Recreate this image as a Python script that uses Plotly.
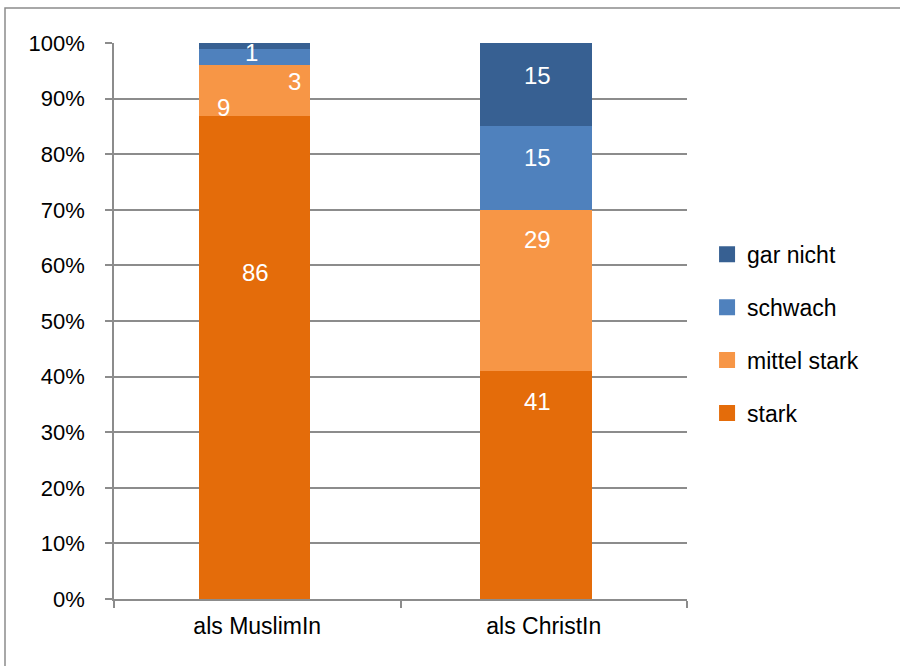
import plotly.graph_objects as go

categories = ["als MuslimIn", "als ChristIn"]
series_names = ["stark", "mittel stark", "schwach", "gar nicht"]
stark = [86, 41]
mittel_stark = [9, 29]
schwach = [3, 15]
gar_nicht = [1, 15]
values = [stark, mittel_stark, schwach, gar_nicht]
colors = ["#E46C0A", "#F79646", "#4F81BD", "#376092"]
y_tickvals = [0, 10, 20, 30, 40, 50, 60, 70, 80, 90, 100]
y_ticktext = [f"{v}%" for v in y_tickvals]

BAR_W = 0.39
bar_offsets = [-BAR_W / 2 - 0.01, -BAR_W / 2 - 0.026]  # slight per-category shift

# label offsets (pixels) relative to the top of each segment: (xshift, yshift) per [series][category]
label_offsets = [
    [(-2, -156), (-6, -30)],
    [(-34, -42), (-6, -30)],
    [(37, -33), (-6, -31)],
    [(-6, -9), (-6, -32)],
]

FONT = "Liberation Sans, Arial, sans-serif"
fig = go.Figure()
for si, (name, vals, col) in enumerate(zip(series_names, values, colors)):
    fig.add_trace(go.Bar(
        x=categories, y=vals, name=name, marker=dict(color=col, line=dict(width=0)),
        width=BAR_W, offset=bar_offsets, showlegend=False,
    ))
    # legend entry with a larger square swatch
    fig.add_trace(go.Scatter(
        x=[None], y=[None], mode="markers", name=name,
        marker=dict(symbol="square", size=16, color=col),
        legendgroup=name, legendrank=len(series_names) - si,
    ))

totals = [sum(v[i] for v in values) for i in range(len(categories))]
for ci, cat in enumerate(categories):
    for si, vals in enumerate(values):
        cum_top = sum(values[k][ci] for k in range(si + 1)) * 100 / totals[ci]
        cum_top = min(cum_top, 100)
        dx, dy = label_offsets[si][ci]
        fig.add_annotation(x=cat, y=cum_top, xref="x", yref="y", text=str(vals[ci]), showarrow=False,
                           xshift=dx, yshift=dy, yanchor="middle", xanchor="center",
                           font=dict(color="white", size=24, family=FONT))

L, R, T, B = 114, 213, 43, 67
W, H = 900, 666
pw, ph = W - L - R, H - T - B
fig.add_shape(type="rect", xref="paper", yref="paper",
              x0=(5 - L) / pw, x1=(W + 20 - L) / pw,
              y0=-(H + 20 - T - ph) / ph, y1=(H - B - 8) / ph,
              line=dict(color="#8c8c8c", width=1.5), fillcolor="rgba(0,0,0,0)", layer="below")

fig.update_layout(
    width=W, height=H, barmode="stack", barnorm="percent",
    margin=dict(l=L, r=R, t=T, b=B),
    plot_bgcolor="white", paper_bgcolor="white",
    font=dict(family=FONT, size=22, color="#000"),
    showlegend=True,
    legend=dict(x=1.035, xanchor="left", xref="paper", y=0.477, yanchor="middle",
                traceorder="grouped", tracegroupgap=20,
                font=dict(size=23), itemwidth=30, bgcolor="rgba(0,0,0,0)"),
    xaxis=dict(showline=True, linecolor="#8c8c8c", linewidth=1.5, ticks="outside",
               tickson="boundaries", ticklen=7, tickcolor="#8c8c8c", tickwidth=1.5,
               tickfont=dict(size=23), showgrid=False, ticklabelstandoff=6),
    yaxis=dict(range=[0, 100], tickmode="array", tickvals=y_tickvals, ticktext=y_ticktext,
               showline=True, linecolor="#8c8c8c", linewidth=1.5,
               ticks="outside", ticklen=7, tickcolor="#8c8c8c", tickwidth=1.5,
               showgrid=True, gridcolor="#8c8c8c", gridwidth=1.5, zeroline=False,
               tickfont=dict(size=22), ticklabelstandoff=16),
)

fig.write_html("out.html", config={"displayModeBar": False},
               post_script="document.body.style.margin='0';")
